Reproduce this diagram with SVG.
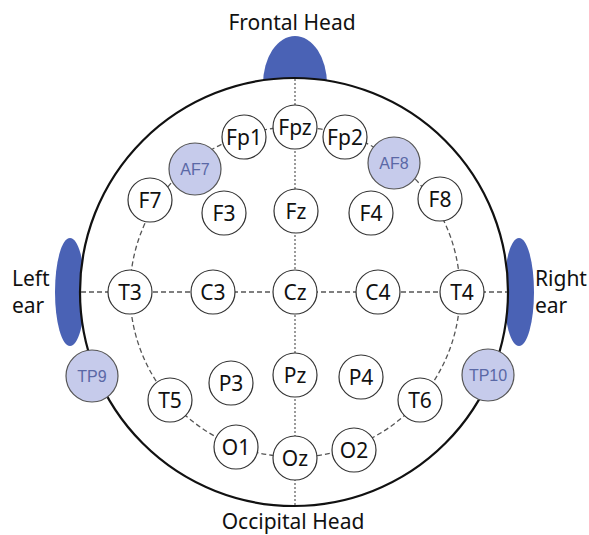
<svg xmlns="http://www.w3.org/2000/svg" width="589" height="535" viewBox="0 0 589 535">
<style>
  .lbl { font-family: "Noto Sans", "Open Sans", sans-serif; font-size: 21px; fill: #111; }
  .el circle { fill: #fff; stroke: #333; stroke-width: 1.2; }
  .el text { font-family: "Noto Sans", "Open Sans", sans-serif; font-size: 21px; fill: #111; text-anchor: middle; }
  .ref circle { fill: #c6cbeb; stroke: #555; stroke-width: 1.2; }
  .ref text { font-family: "Liberation Sans", Arial, sans-serif; font-size: 16px; fill: #5a68a6; text-anchor: middle; }
  .organ { fill: #4a62b5; }
  .dash { fill: none; stroke: #555; stroke-width: 1.3; stroke-dasharray: 5 3; }
  .dot { fill: none; stroke: #666; stroke-width: 1.3; stroke-dasharray: 2 2; }
</style>
<rect width="589" height="535" fill="#fff"/>
<g id="organs">
  <path class="organ" d="M263,84 A32,48 0 0 1 327,84 Z"/>
  <ellipse class="organ" cx="70" cy="292" rx="15" ry="54"/>
  <ellipse class="organ" cx="519" cy="292" rx="15" ry="54"/>
</g>
<g id="head">
  <circle cx="294" cy="292" r="214" fill="#fff" stroke="#111" stroke-width="2.2"/>
</g>
<g id="connectors">
  <line class="dot" x1="295" y1="79" x2="295" y2="505"/>
  <line class="dash" x1="81" y1="292" x2="507" y2="292"/>
  <circle class="dash" cx="295" cy="292" r="165"/>
</g>
<g id="labels">
  <text class="lbl" x="292" y="30" text-anchor="middle">Frontal Head</text>
  <text class="lbl" x="293" y="529" text-anchor="middle">Occipital Head</text>
  <text class="lbl" x="12" y="286">Left</text>
  <text class="lbl" x="12" y="313">ear</text>
  <text class="lbl" x="535" y="286">Right</text>
  <text class="lbl" x="535" y="313">ear</text>
</g>
<g id="Fpz" class="el"><circle cx="295" cy="127" r="22"/><text x="295" y="134.5">Fpz</text></g>
<g id="Fp1" class="el"><circle cx="244" cy="137" r="22"/><text x="244" y="144.5">Fp1</text></g>
<g id="Fp2" class="el"><circle cx="345" cy="137" r="22"/><text x="345" y="144.5">Fp2</text></g>
<g id="AF7" class="ref"><circle cx="195" cy="169" r="26"/><text x="195" y="175">AF7</text></g>
<g id="AF8" class="ref"><circle cx="394" cy="163" r="26"/><text x="394" y="169">AF8</text></g>
<g id="F7" class="el"><circle cx="150" cy="200" r="22"/><text x="150" y="207.5">F7</text></g>
<g id="F3" class="el"><circle cx="224" cy="213" r="22"/><text x="224" y="220.5">F3</text></g>
<g id="Fz" class="el"><circle cx="296" cy="211" r="22"/><text x="296" y="218.5">Fz</text></g>
<g id="F4" class="el"><circle cx="371" cy="213" r="22"/><text x="371" y="220.5">F4</text></g>
<g id="F8" class="el"><circle cx="440" cy="199" r="22"/><text x="440" y="206.5">F8</text></g>
<g id="T3" class="el"><circle cx="130" cy="292" r="22"/><text x="130" y="299.5">T3</text></g>
<g id="C3" class="el"><circle cx="213" cy="292" r="22"/><text x="213" y="299.5">C3</text></g>
<g id="Cz" class="el"><circle cx="295" cy="292" r="22"/><text x="295" y="299.5">Cz</text></g>
<g id="C4" class="el"><circle cx="378" cy="292" r="22"/><text x="378" y="299.5">C4</text></g>
<g id="T4" class="el"><circle cx="462" cy="292" r="22"/><text x="462" y="299.5">T4</text></g>
<g id="TP9" class="ref"><circle cx="92" cy="376" r="26"/><text x="92" y="382">TP9</text></g>
<g id="TP10" class="ref"><circle cx="488" cy="375" r="26"/><text x="488" y="381">TP10</text></g>
<g id="T5" class="el"><circle cx="170" cy="400" r="22"/><text x="170" y="407.5">T5</text></g>
<g id="P3" class="el"><circle cx="231" cy="383" r="22"/><text x="231" y="390.5">P3</text></g>
<g id="Pz" class="el"><circle cx="295" cy="375" r="22"/><text x="295" y="382.5">Pz</text></g>
<g id="P4" class="el"><circle cx="361" cy="377" r="22"/><text x="361" y="384.5">P4</text></g>
<g id="T6" class="el"><circle cx="420" cy="400" r="22"/><text x="420" y="407.5">T6</text></g>
<g id="O1" class="el"><circle cx="236" cy="447" r="22"/><text x="236" y="454.5">O1</text></g>
<g id="Oz" class="el"><circle cx="295" cy="458" r="22"/><text x="295" y="465.5">Oz</text></g>
<g id="O2" class="el"><circle cx="354" cy="450" r="22"/><text x="354" y="457.5">O2</text></g>
</svg>
